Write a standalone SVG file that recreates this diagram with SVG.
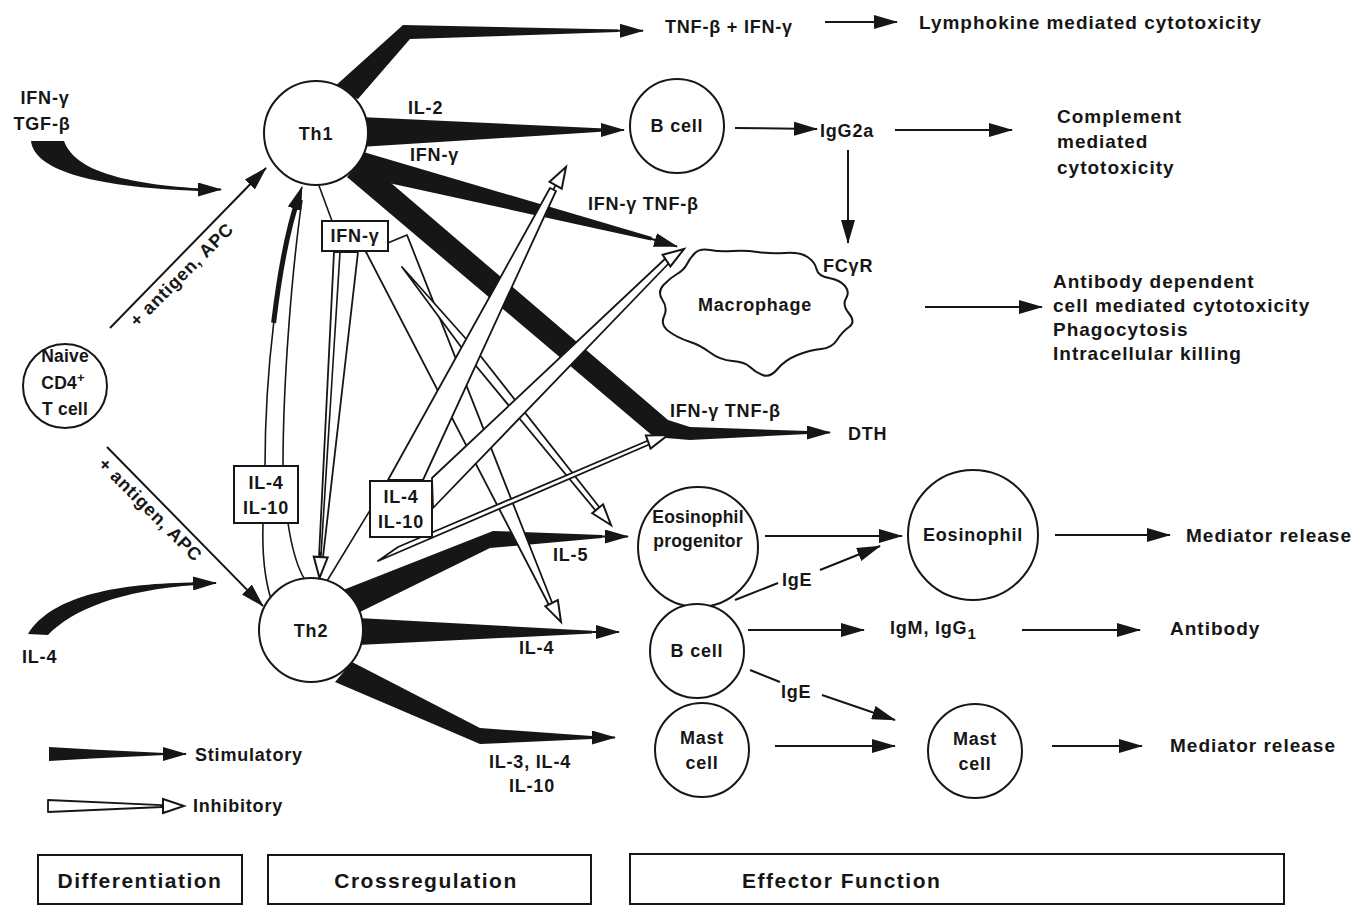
<svg xmlns="http://www.w3.org/2000/svg" width="1360" height="907" viewBox="0 0 1360 907">
<defs>
<style>
text{font-family:"Liberation Sans",Arial,sans-serif;font-weight:bold;fill:#161616;font-size:18px;letter-spacing:0.8px}
.mid{text-anchor:middle}
.eff{font-size:19px;letter-spacing:1px}
.node{fill:#fff;stroke:#161616;stroke-width:2}
.box{fill:#fff;stroke:#161616;stroke-width:2}
.ln{fill:none;stroke:#161616;stroke-width:2}
.tn{fill:none;stroke:#161616;stroke-width:1.6}
.st{fill:#161616;stroke:none}
.inh{fill:#fff;stroke:#161616;stroke-width:1.8;stroke-linejoin:round}
.lab{font-size:21px;letter-spacing:1.5px}
.tight{font-size:17.5px;letter-spacing:0.2px}
</style>
<marker id="sa" markerUnits="userSpaceOnUse" markerWidth="24" markerHeight="14" viewBox="0 0 24 14" refX="23" refY="7" orient="auto"><path d="M0,0 L24,7 L0,14 Z" fill="#161616"/></marker>
<marker id="oa" markerUnits="userSpaceOnUse" markerWidth="26" markerHeight="18" viewBox="-2 -2 26 18" refX="21" refY="7" orient="auto"><path d="M0,0 L21,7 L0,14 Z" fill="#fff" stroke="#161616" stroke-width="2"/></marker>
</defs>
<rect width="1360" height="907" fill="#fff"/>

<g id="connectors">
  <!-- differentiation inputs -->
  <path class="st" d="M31,141 C34,168 85,187 200,191 L200,188.5 C115,183 74,168 64,141 Z"/>
  <path class="ln" d="M195,189.5 L221,189.5" marker-end="url(#sa)"/>
  <path class="st" d="M28,634 L48,635 C72,610 120,590 197,585 L197,582.5 C120,583 52,595 28,634 Z"/>
  <path class="ln" d="M192,583.5 L216,583" marker-end="url(#sa)"/>
  <path class="ln" d="M110,328 L266,168" marker-end="url(#sa)"/>
  <path class="ln" d="M107,447 L263,606" marker-end="url(#sa)"/>

  <!-- Th1 outputs -->
  <polygon class="st" points="333,88 403,25 618,29.5 618,32 410,39 358,99"/>
  <path class="ln" d="M600,30.8 L643,30.8" marker-end="url(#sa)"/>
  <polygon class="st" points="360,117 605,128.5 605,131.5 360,147"/>
  <path class="ln" d="M595,130 L624,130" marker-end="url(#sa)"/>
  <polygon class="st" points="360,151 652,237 651,240.5 352,175"/>
  <path class="ln" d="M645,237 L677,246.5" marker-end="url(#sa)"/>
  <polygon class="st" points="347,177 363,159 668,420 690,427 808,431 808,434 690,440 654,437"/>
  <path class="ln" d="M800,432.5 L830,432.5" marker-end="url(#sa)"/>

  <!-- Th2 outputs -->
  <polygon class="st" points="343,590 493,531 602,535 602,538 490,548 360,612"/>
  <path class="ln" d="M595,536.5 L628,536.5" marker-end="url(#sa)"/>
  <polygon class="st" points="358,618 592,630.8 592,633.5 358,645"/>
  <path class="ln" d="M585,632 L619,632" marker-end="url(#sa)"/>
  <polygon class="st" points="352,662 480,728 592,736 592,739 480,744 335,682"/>
  <path class="ln" d="M585,737.5 L615,737.5" marker-end="url(#sa)"/>

  <!-- Th2 -> Th1 via IL-4 IL-10 -->
  <path class="tn" d="M265,467 C265,380 276,262 302,187" marker-end="url(#sa)"/>
  <path d="M273.6,322.9 C279.5,273.5 288.5,226 299,196" fill="none" stroke="#161616" stroke-width="5"/>
  <path class="tn" d="M283,467 C283,380 292,270 302,200"/>
  <path class="tn" d="M263,523 C262,555 265,580 271,599"/>
  <path class="tn" d="M288,523 C292,550 297,567 305,580"/>

  <!-- Th1 -> IFN-gamma box -->
  <path class="tn" d="M318,183 L332,221"/>
  <polygon class="inh" points="334,252 358,252 323,557 319,557"/>
  <path class="tn" d="M340,252 L321,555"/>
  <path class="tn" d="M321,552 L319.5,578" marker-end="url(#oa)"/>
  <polygon class="inh" points="366,252 407,235 553,605 550,607"/>
  <path class="tn" d="M552,604 L561,622" marker-end="url(#oa)"/>
  <polygon class="inh" points="402,267 475,349 600,508 596,511 467,355"/>
  <path class="tn" d="M597,508 L611,525" marker-end="url(#oa)"/>

  <!-- IL-4 IL-10 (Th2) inhibition -->
  <path class="tn" d="M372,507 L327,581"/>
  <polygon class="inh" points="388,480 423,480 556,191 550,188"/>
  <path class="tn" d="M553,190 L566,167" marker-end="url(#oa)"/>
  <polygon class="inh" points="432,478 433,508 671,261 667,257"/>
  <path class="tn" d="M669,259 L684,249" marker-end="url(#oa)"/>
  <polygon class="inh" points="378,561 398,547 654,438 655,442"/>
  <path class="tn" d="M654,440 L668,435" marker-end="url(#oa)"/>

  <!-- effector arrows -->
  <path class="ln" d="M825,22 L897,22" marker-end="url(#sa)"/>
  <path class="ln" d="M735,128 L817,129" marker-end="url(#sa)"/>
  <path class="ln" d="M895,130 L1012,130" marker-end="url(#sa)"/>
  <path class="ln" d="M848,150 L848,243" marker-end="url(#sa)"/>
  <path class="ln" d="M925,307 L1042,307" marker-end="url(#sa)"/>
  <path class="ln" d="M765,536 L902,536" marker-end="url(#sa)"/>
  <path class="ln" d="M735,600 L778,583"/>
  <path class="ln" d="M820,570 L880,546" marker-end="url(#sa)"/>
  <path class="ln" d="M1055,535 L1170,535" marker-end="url(#sa)"/>
  <path class="ln" d="M748,630 L864,630" marker-end="url(#sa)"/>
  <path class="ln" d="M1022,630 L1140,630" marker-end="url(#sa)"/>
  <path class="ln" d="M750,670 L780,682"/>
  <path class="ln" d="M822,695 L895,720" marker-end="url(#sa)"/>
  <path class="ln" d="M775,746 L895,746" marker-end="url(#sa)"/>
  <path class="ln" d="M1052,746 L1142,746" marker-end="url(#sa)"/>
</g>

<g id="input-labels">
  <text class="mid" x="45" y="104">IFN-γ</text>
  <text class="mid" x="42" y="130">TGF-β</text>
  <text x="22" y="663">IL-4</text>
  <text class="mid" transform="translate(186,279) rotate(-45)">+ antigen, APC</text>
  <text class="mid" transform="translate(146,514) rotate(45)">+ antigen, APC</text>
</g>

<g id="naive"><circle class="node" cx="65" cy="386" r="42"/>
  <text class="mid tight" x="65" y="362">Naive</text>
  <text class="mid tight" x="63" y="389">CD4<tspan dy="-7" font-size="13">+</tspan></text>
  <text class="mid tight" x="65" y="415">T cell</text></g>
<g id="th1"><circle class="node" cx="316" cy="133" r="52"/><text class="mid" x="316" y="140">Th1</text></g>
<g id="th2"><circle class="node" cx="311" cy="630" r="52"/><text class="mid" x="311" y="637">Th2</text></g>
<g id="box-ifng"><rect class="box" x="322" y="221" width="66" height="30"/><text class="mid" x="355" y="242" font-size="16">IFN-γ</text></g>
<g id="box-il4a"><rect class="box" x="234" y="466" width="64" height="57"/><text class="mid" x="266" y="489">IL-4</text><text class="mid" x="266" y="514">IL-10</text></g>
<g id="box-il4b"><rect class="box" x="370" y="481" width="62" height="56"/><text class="mid" x="401" y="503">IL-4</text><text class="mid" x="401" y="528">IL-10</text></g>

<g id="th1-labels">
  <text x="665" y="33" font-size="18">TNF-β + IFN-γ</text>
  <text x="408" y="114">IL-2</text>
  <text x="410" y="161">IFN-γ</text>
  <text x="588" y="210">IFN-γ TNF-β</text>
  <text x="670" y="417">IFN-γ TNF-β</text>
  <text x="848" y="440" font-size="22" letter-spacing="1.5">DTH</text>
</g>
<g id="th2-labels">
  <text x="553" y="561">IL-5</text>
  <text x="519" y="654">IL-4</text>
  <text class="mid" x="530" y="768">IL-3, IL-4</text>
  <text class="mid" x="532" y="792">IL-10</text>
</g>

<g id="bcell1"><circle class="node" cx="677" cy="126" r="47"/><text class="mid" x="677" y="132">B cell</text></g>
<g id="macrophage"><path class="node" d="M687,264 Q690,258 695,253 Q700,248 710,250 Q720,252 732.5,251 Q745,250 757.5,252 Q770,254 785,253 Q800,252 807.5,257 Q815,262 816.5,269 Q818,276 829,278 Q840,280 845,286 Q850,292 846,298.5 Q842,305 849,313.5 Q856,322 849,327 Q842,332 837,340 Q832,348 821,349 Q810,350 797.5,355 Q785,360 777.5,369 Q770,378 762.5,375 Q755,372 750,367 Q745,362 732.5,361 Q720,360 710,352.5 Q700,345 689,341.5 Q678,338 669,331.5 Q660,325 664,316.5 Q668,308 662.5,300 Q657,292 663.5,285 Q670,278 677,274 Q684,270 687,264 Z"/>
  <text class="mid" x="755" y="311">Macrophage</text></g>
<g id="eosprog"><circle class="node" cx="698" cy="547" r="60"/><text class="mid tight" x="698" y="523">Eosinophil</text><text class="mid tight" x="698" y="547">progenitor</text></g>
<g id="eos"><circle class="node" cx="973" cy="535" r="65"/><text class="mid" x="973" y="541">Eosinophil</text></g>
<g id="bcell2"><circle class="node" cx="697" cy="651" r="47"/><text class="mid" x="697" y="657">B cell</text></g>
<g id="mast1"><circle class="node" cx="702" cy="750" r="47"/><text class="mid" x="702" y="744">Mast</text><text class="mid" x="702" y="769">cell</text></g>
<g id="mast2"><circle class="node" cx="975" cy="751" r="47"/><text class="mid" x="975" y="745">Mast</text><text class="mid" x="975" y="770">cell</text></g>

<g id="effector-labels">
  <text class="eff" x="919" y="29">Lymphokine mediated cytotoxicity</text>
  <text x="820" y="137">IgG2a</text>
  <text class="eff" x="1057" y="123">Complement</text>
  <text class="eff" x="1057" y="148">mediated</text>
  <text class="eff" x="1057" y="174">cytotoxicity</text>
  <text x="823" y="272">FCγR</text>
  <text class="eff" x="1053" y="288">Antibody dependent</text>
  <text class="eff" x="1053" y="312">cell mediated cytotoxicity</text>
  <text class="eff" x="1053" y="336">Phagocytosis</text>
  <text class="eff" x="1053" y="360">Intracellular killing</text>
  <text class="eff" x="1186" y="542">Mediator release</text>
  <text x="782" y="586">IgE</text>
  <text x="890" y="634">IgM, IgG<tspan dy="5" font-size="15">1</tspan></text>
  <text class="eff" x="1170" y="635">Antibody</text>
  <text x="781" y="698">IgE</text>
  <text class="eff" x="1170" y="752">Mediator release</text>
</g>

<g id="legend">
  <polygon class="st" points="49,747 92,749.5 165,753 165,755 92,758.5 49,761"/>
  <path class="ln" d="M160,754 L186,754" marker-end="url(#sa)"/>
  <text x="195" y="761">Stimulatory</text>
  <polygon class="inh" points="48,800 162,805.2 162,807 48,812"/>
  <path class="tn" d="M160,806 L184,806" marker-end="url(#oa)"/>
  <text x="193" y="812">Inhibitory</text>
</g>

<g id="stage-boxes">
  <g id="stage-diff"><rect class="box" x="38" y="855" width="204" height="49"/><text class="mid lab" x="140" y="888">Differentiation</text></g>
  <g id="stage-cross"><rect class="box" x="268" y="855" width="323" height="49"/><text class="mid lab" x="426" y="888">Crossregulation</text></g>
  <g id="stage-eff"><rect class="box" x="630" y="854" width="654" height="50"/><text class="lab" x="742" y="888">Effector Function</text></g>
</g>
</svg>
